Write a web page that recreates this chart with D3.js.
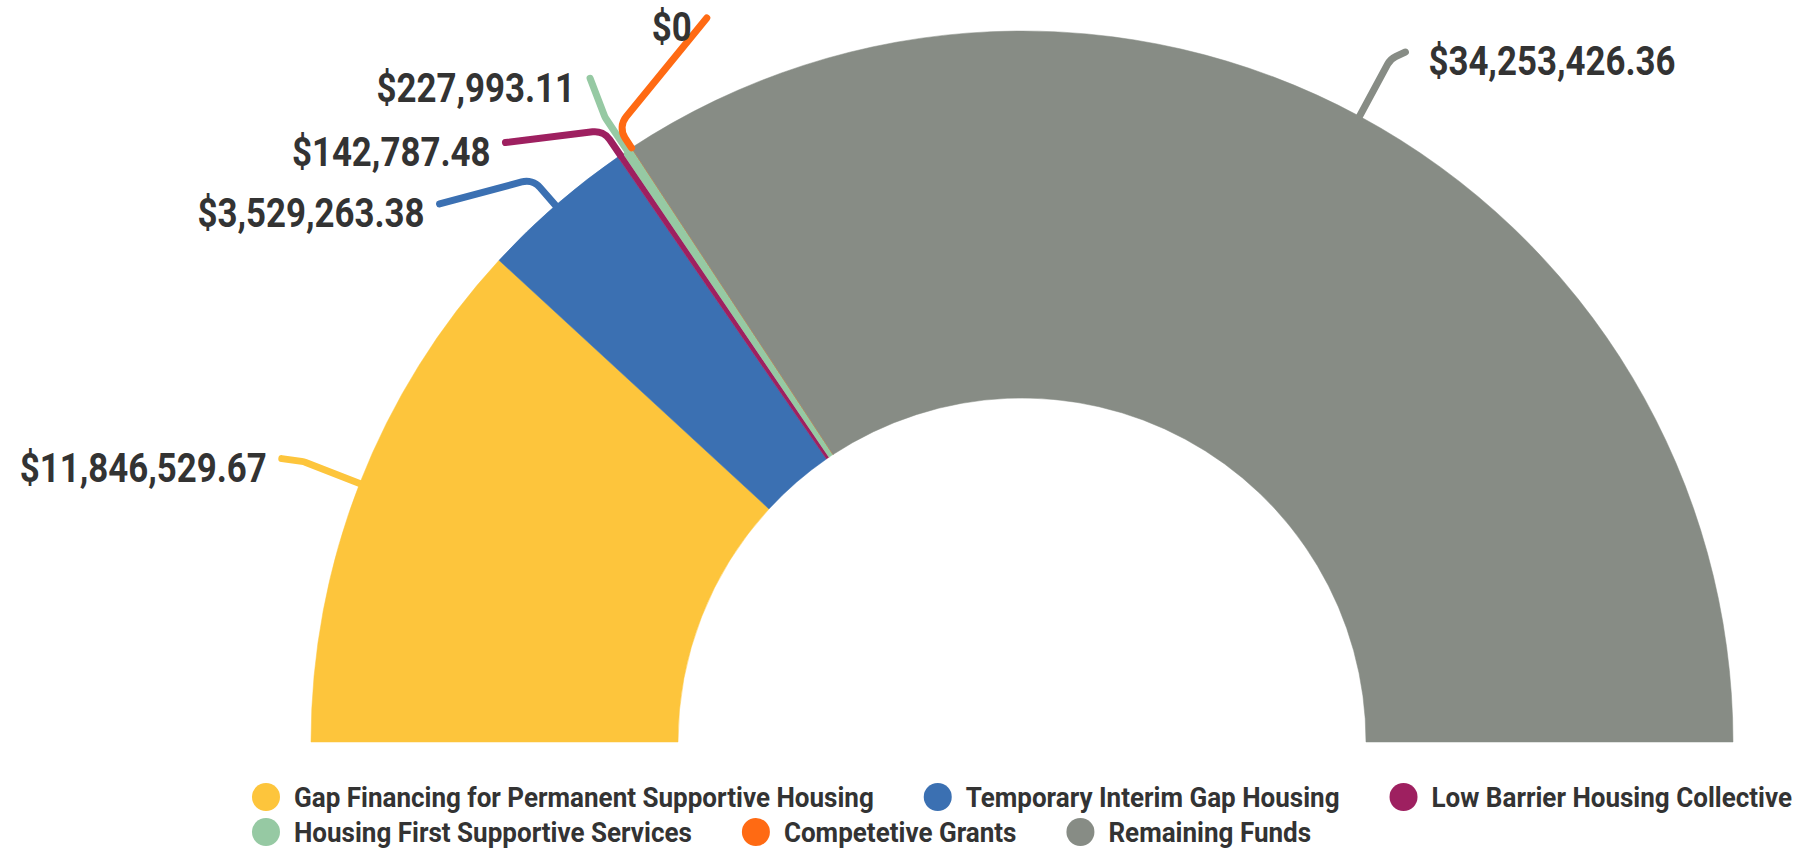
<!DOCTYPE html>
<html>
<head>
<meta charset="utf-8">
<style>
  body { margin: 0; background: #fff; }
  text { font-family: Roboto, "Noto Sans", sans-serif; font-weight: bold; fill: #333; }
</style>
</head>
<body>
<svg width="1795" height="850"></svg>
<script src="https://cdn.jsdelivr.net/npm/d3@7"></script>
<script>
  // data
  var categories = ["Gap Financing for Permanent Supportive Housing", "Temporary Interim Gap Housing",
                    "Low Barrier Housing Collective", "Housing First Supportive Services",
                    "Competetive Grants", "Remaining Funds"];
  var amounts = [11846529.67, 3529263.38, 142787.48, 227993.11, 0, 34253426.36];
  var colors = ["#fdc53c", "#3b70b2", "#9e2060", "#96c9a3", "#ff6a13", "#878c85"];

  // label placement: radial tick length, then offset of tick end from the elbow
  var tickLen = [60, 35, 30, 40, 25, 65];
  var tickDx = [-22, -93, -98, -15, 89, 15];
  var tickDy = [-3, 25, 12, -39, -109, -7];

  var svg = d3.select("svg"),
      cx = 1022, cy = 742,
      outerR = 711, innerR = 344,
      valueScaleX = 0.85, legendScaleX = 0.93;

  var fmt = function(v) { return v === 0 ? "$0" : d3.format("$,.2f")(v); };

  var data = categories.map(function(c, i) { return {name: c, value: amounts[i], color: colors[i], i: i}; });

  var pie = d3.pie()
      .sort(null)
      .value(function(d) { return d.value; })
      .startAngle(-Math.PI / 2)
      .endAngle(Math.PI / 2);

  var arc = d3.arc().innerRadius(innerR).outerRadius(outerR);

  var g = svg.append("g").attr("transform", "translate(" + cx + "," + cy + ")");

  var arcs = pie(data);

  g.selectAll("path.slice")
    .data(arcs)
    .enter().append("path")
      .attr("class", "slice")
      .attr("d", arc)
      .attr("fill", function(d) { return d.data.color; })
      .attr("stroke", function(d) { return d.data.color; })
      .attr("stroke-width", 0.5);

  function polar(r, a) { return [r * Math.sin(a), -r * Math.cos(a)]; }

  // ticks + labels
  arcs.forEach(function(d) {
    var i = d.data.i,
        mid = (d.startAngle + d.endAngle) / 2,
        A = polar(outerR, mid),
        B = polar(outerR + tickLen[i], mid),
        C = [B[0] + tickDx[i], B[1] + tickDy[i]],
        left = Math.sin(mid) < 0;

    var p = d3.path();
    p.moveTo(A[0], A[1]);
    p.arcTo(B[0], B[1], C[0], C[1], 18);
    p.lineTo(C[0], C[1]);

    g.append("path")
      .attr("d", p.toString())
      .attr("fill", "none")
      .attr("stroke", d.data.color)
      .attr("stroke-width", 7)
      .attr("stroke-linecap", "round")
      .attr("stroke-linejoin", "round");

    g.append("g")
      .attr("transform", "translate(" + (C[0] + (left ? -15 : 23)) + "," + (C[1] + 9) + ") scale(" + valueScaleX + ",1)")
      .append("text")
      .attr("text-anchor", left ? "end" : "start")
      .attr("dy", "0.35em")
      .attr("font-size", 41)
      .text(fmt(d.data.value));
  });

  // legend: flow layout, rows left aligned, block centred
  var legend = svg.append("g");
  var maxRowW = 1560, rowH = 35, markerR = 14, gap = 50;
  var items = legend.selectAll("g.item")
    .data(data)
    .enter().append("g").attr("class", "item");

  items.append("circle")
    .attr("r", markerR)
    .attr("cx", markerR)
    .attr("fill", function(d) { return d.color; });

  items.append("g")
    .attr("transform", "translate(" + (markerR * 3) + ",0) scale(" + legendScaleX + ",1)")
    .append("text")
      .attr("dy", "0.35em")
      .attr("font-size", 28)
      .text(function(d) { return d.name; });

  var x = 0, row = 0, rowWidths = [0];
  items.each(function(d) {
    var w = markerR * 3 + this.querySelector("text").getComputedTextLength() * legendScaleX;
    if (x > 0 && x + w > maxRowW) { row++; x = 0; rowWidths.push(0); }
    d3.select(this).attr("transform", "translate(" + x + "," + (row * rowH) + ")");
    rowWidths[row] = x + w;
    x += w + gap;
  });
  var blockW = d3.max(rowWidths);
  legend.attr("transform", "translate(" + (cx - blockW / 2) + ",797)");
</script>
</body>
</html>
